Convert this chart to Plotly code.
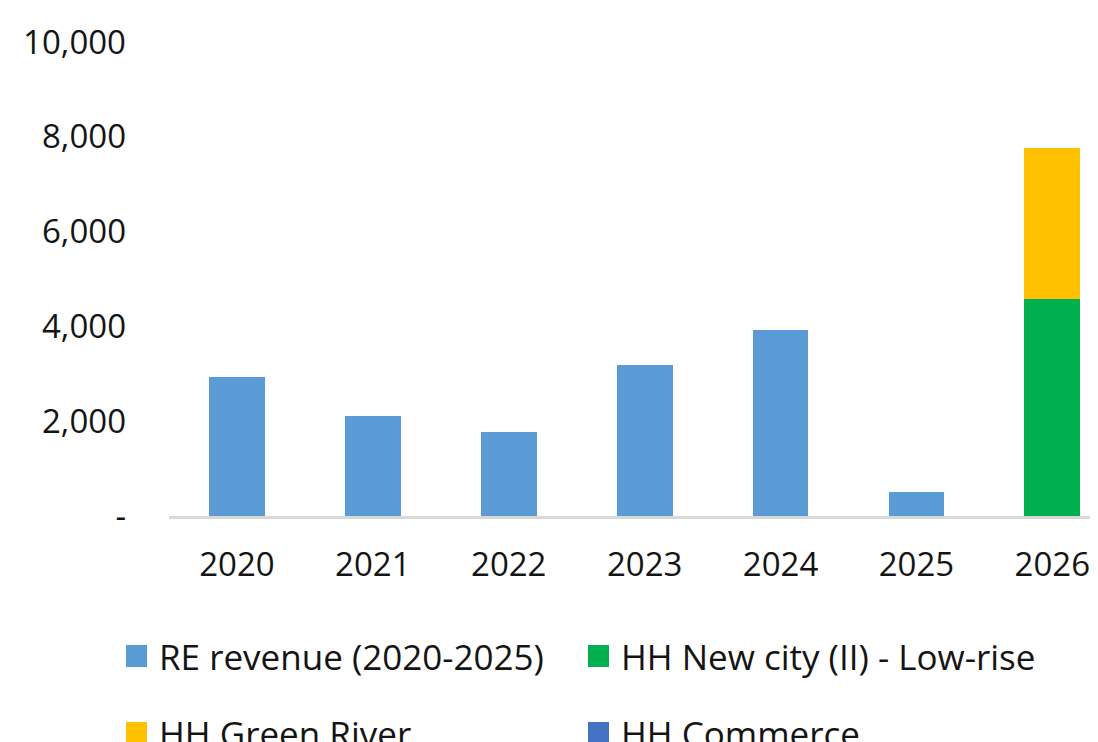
import plotly.graph_objects as go

years = ["2020", "2021", "2022", "2023", "2024", "2025", "2026"]
re_revenue = [2930, 2100, 1770, 3180, 3920, 500, None]
hh_new_city = [None, None, None, None, None, None, 4570]
hh_green_river = [None, None, None, None, None, None, 3200]
hh_commerce = [None, None, None, None, None, None, 0]

series_names = ["RE revenue (2020-2025)", "HH New city (II) - Low-rise",
                "HH Green River", "HH Commerce"]
series_colors = ["#5B9BD5", "#00B050", "#FFC000", "#4472C4"]
series_values = [re_revenue, hh_new_city, hh_green_river, hh_commerce]

ytick_vals = [0, 2000, 4000, 6000, 8000, 10000]
ytick_text = ["-", "2,000", "4,000", "6,000", "8,000", "10,000"]

OFF = 8  # page body margin
W, H = 1098 - OFF, 742 - OFF
L, R, T, B = 169 - OFF, 0, 42 - OFF, 226
PW, PH = W - L - R, H - T - B

fig = go.Figure()
for name, vals, col in zip(series_names, series_values, series_colors):
    fig.add_trace(go.Bar(x=years, y=vals, name=name, marker_color=col,
                         marker_line_width=0, width=0.41, showlegend=False))

FONT = "Open Sans"

def px2paper(px, py):
    # page pixel -> paper coords
    fx, fy = px - OFF, py - OFF
    return (fx - L) / PW, (H - B - fy) / PH

# legend drawn manually (two columns, two rows)
leg_pos = [(126, 656), (588, 656), (126, 733), (588, 733)]
shapes = []
annotations = []
for (lx, ly), name, col in zip(leg_pos, series_names, series_colors):
    x0, y0 = px2paper(lx, ly + 11)
    x1, y1 = px2paper(lx + 21, ly - 11)
    shapes.append(dict(type="rect", xref="paper", yref="paper", x0=x0, y0=y0,
                       x1=x1, y1=y1, fillcolor=col, line_width=0))
    tx, ty = px2paper(lx + 31, ly)
    annotations.append(dict(text=name, xref="paper", yref="paper", x=tx, y=ty,
                            xanchor="left", yanchor="middle", showarrow=False,
                            font=dict(family=FONT, size=35, color="#141414")))

fig.update_layout(
    barmode="stack",
    width=W, height=H,
    margin=dict(l=L, r=R, t=T, b=B, pad=0),
    paper_bgcolor="white", plot_bgcolor="white",
    font=dict(family=FONT, size=33, color="#141414"),
    shapes=shapes, annotations=annotations,
    xaxis=dict(type="category", range=[-0.5, 6.336], showgrid=False,
               showline=True, linecolor="#d9d9d9", linewidth=3,
               ticks="", ticklabelstandoff=17, tickfont=dict(size=33)),
    yaxis=dict(range=[0, 10000], tickvals=ytick_vals, ticktext=ytick_text,
               showgrid=False, zeroline=False, showline=False, ticks="",
               ticklabelstandoff=42, tickfont=dict(size=33)),
)

fig.write_html("out.html")
